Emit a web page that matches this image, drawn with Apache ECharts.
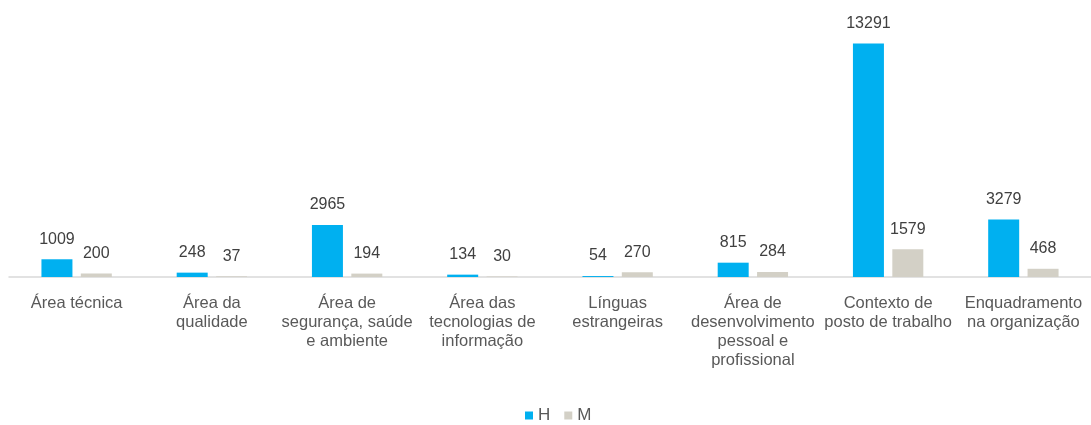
<!DOCTYPE html>
<html>
<head>
<meta charset="utf-8">
<script src="https://cdn.jsdelivr.net/npm/echarts@6/dist/echarts.min.js"></script>
<style>
  html, body { margin: 0; padding: 0; background: #fff; }
  #chart { width: 1091px; height: 425px; }
</style>
</head>
<body>
<div id="chart"></div>
<script>
var categories = [
  'Área técnica',
  'Área da\nqualidade',
  'Área de\nsegurança, saúde\ne ambiente',
  'Área das\ntecnologias de\ninformação',
  'Línguas\nestrangeiras',
  'Área de\ndesenvolvimento\npessoal e\nprofissional',
  'Contexto de\nposto de trabalho',
  'Enquadramento\nna organização'
];
var valuesH = [1009, 248, 2965, 134, 54, 815, 13291, 3279];
var valuesM = [200, 37, 194, 30, 270, 284, 1579, 468];

var font = "'Liberation Sans Narrow', 'Arial Narrow', 'Liberation Sans', sans-serif";

var mychart = echarts.init(document.getElementById('chart'));
var option = {
  animation: false,
  textStyle: { fontFamily: font },
  grid: { left: 9, right: -3, top: 31, bottom: 148, containLabel: false },
  legend: {
    data: ['H', 'M'],
    bottom: -4,
    left: 520,
    itemWidth: 8,
    itemHeight: 8,
    itemGap: 14,
    icon: 'rect',
    textStyle: { color: '#595959', fontSize: 17, fontFamily: font }
  },
  xAxis: {
    type: 'category',
    data: categories,
    axisLine: { lineStyle: { color: '#d9d9d9', width: 1.5 } },
    axisTick: { show: false },
    axisLabel: {
      interval: 0,
      color: '#595959',
      fontSize: 16.5,
      lineHeight: 19,
      margin: 17,
      fontFamily: font
    }
  },
  yAxis: {
    type: 'value',
    min: 0,
    max: 14000,
    show: false,
    splitLine: { show: false }
  },
  series: [
    {
      name: 'H',
      type: 'bar',
      data: valuesH,
      barWidth: 31,
      barGap: '27%',
      itemStyle: { color: '#00b0f0' },
      label: { show: true, position: 'top', distance: 12, color: '#404040', fontSize: 16, fontFamily: font }
    },
    {
      name: 'M',
      type: 'bar',
      data: valuesM,
      barWidth: 31,
      itemStyle: { color: '#d3d0c6' },
      label: { show: true, position: 'top', distance: 12, color: '#404040', fontSize: 16, fontFamily: font }
    }
  ]
};
option && mychart.setOption(option);
</script>
</body>
</html>
